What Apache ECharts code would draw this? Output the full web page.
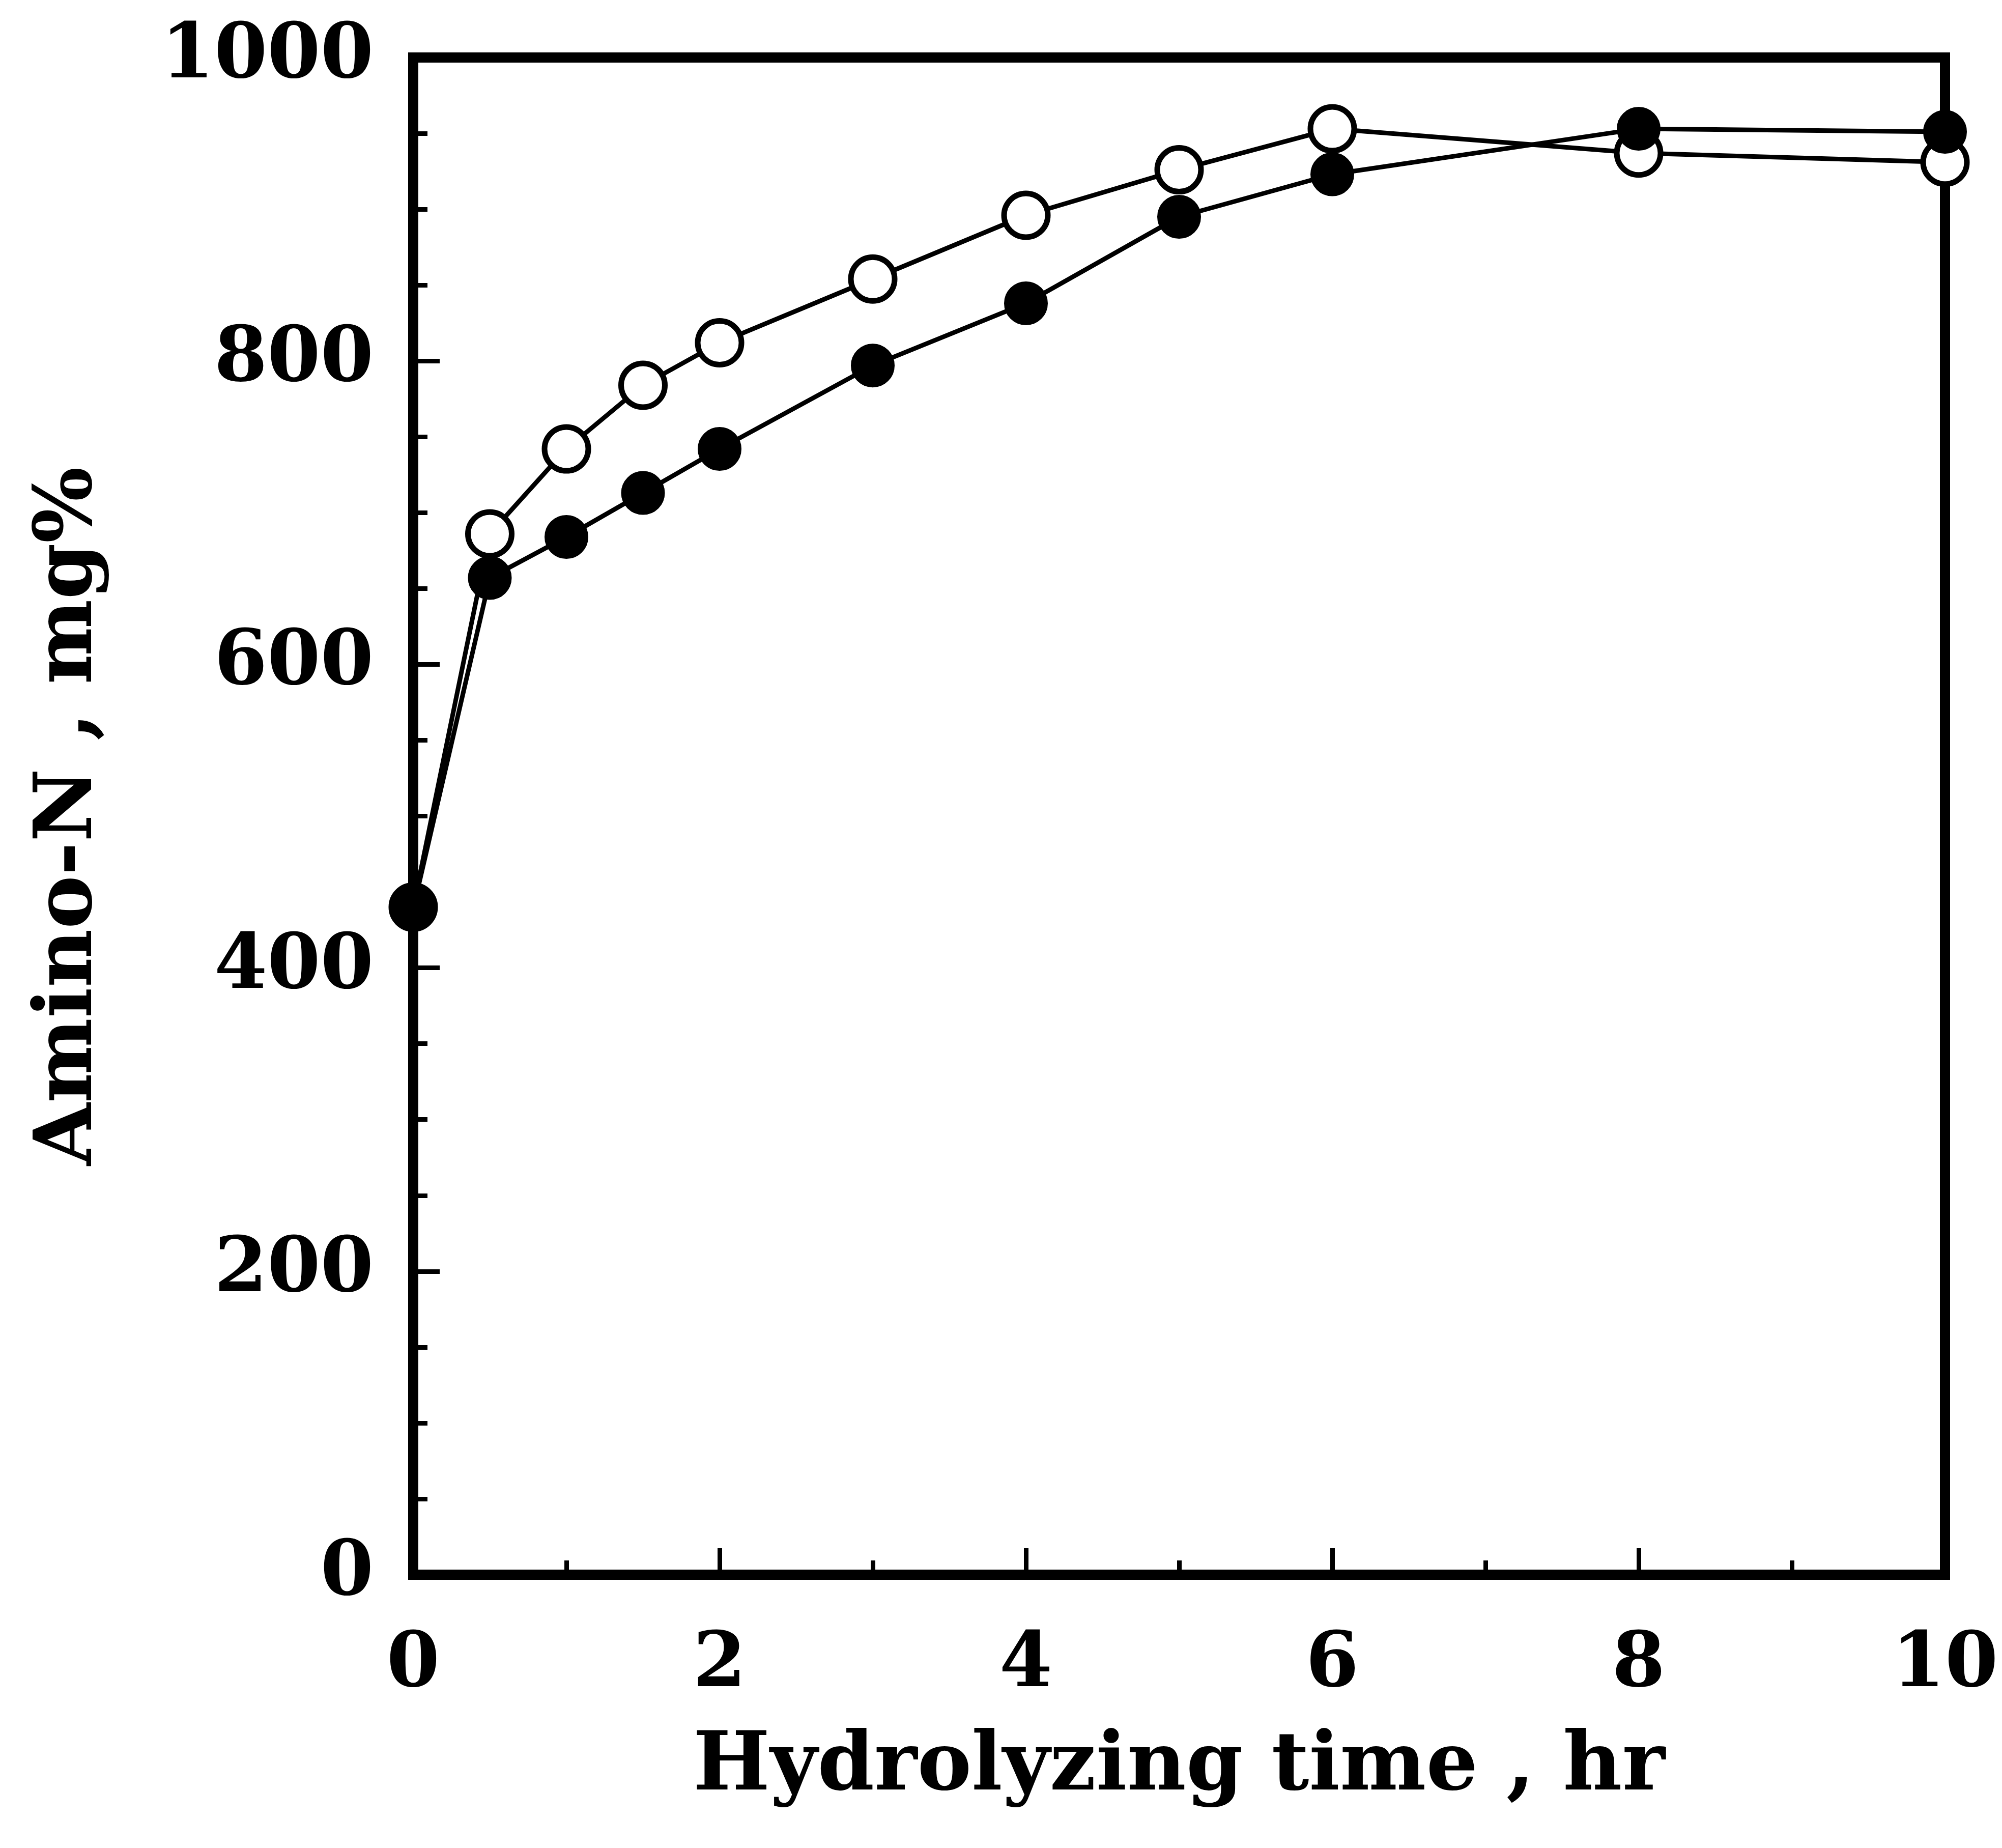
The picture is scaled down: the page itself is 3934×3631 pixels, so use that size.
<!DOCTYPE html>
<html>
<head>
<meta charset="utf-8">
<script src="https://cdn.jsdelivr.net/npm/echarts@6/dist/echarts.min.js"></script>
<style>
html,body{margin:0;padding:0;background:#fff;}
#chart{width:3934px;height:3631px;}
</style>
</head>
<body>
<div id="chart"></div>
<script>
// Data
const hours = [0, 0.5, 1, 1.5, 2, 3, 4, 5, 6, 8, 10];
const openValues = [440, 686, 742, 784, 812, 854, 896, 926, 953, 937, 931];
const filledValues = [439, 657, 684, 713, 742, 797, 838, 895, 923, 953, 951];
const xTicks = [0, 2, 4, 6, 8, 10];
const yTicks = [0, 200, 400, 600, 800, 1000];

const FONT = '"DejaVu Serif", "Liberation Serif", serif';
const pairs = (xs, ys) => xs.map((x, i) => [x, ys[i]]);

const chart = echarts.init(document.getElementById('chart'), null, {renderer: 'canvas'});
chart.setOption({
  backgroundColor: '#ffffff',
  animation: false,
  grid: {
    left: 812, right: 112, top: 113, bottom: 537,
    show: true, borderColor: '#000', borderWidth: 20, backgroundColor: 'transparent'
  },
  xAxis: {
    type: 'value', min: xTicks[0], max: xTicks[xTicks.length - 1], interval: 2,
    name: 'Hydrolyzing time , hr', nameLocation: 'middle', nameGap: 300,
    nameTextStyle: {fontFamily: FONT, fontWeight: 'bold', fontSize: 160, color: '#000'},
    axisLine: {show: true, onZero: false, lineStyle: {color: '#000', width: 20}},
    axisTick: {show: true, inside: true, length: 52, lineStyle: {color: '#000', width: 9}},
    minorTick: {show: true, splitNumber: 2, length: 28, lineStyle: {color: '#000', width: 9}},
    axisLabel: {margin: 105, fontFamily: FONT, fontWeight: 'bold', fontSize: 150, color: '#000',
      formatter: v => String(v)},
    splitLine: {show: false}
  },
  yAxis: {
    type: 'value', min: yTicks[0], max: yTicks[yTicks.length - 1], interval: 200,
    name: 'Amino-N , mg%', nameLocation: 'middle', nameGap: 595, nameRotate: 90,
    nameTextStyle: {fontFamily: FONT, fontWeight: 'bold', fontSize: 158, color: '#000'},
    axisLine: {show: true, onZero: false, lineStyle: {color: '#000', width: 20}},
    axisTick: {show: true, inside: true, length: 52, lineStyle: {color: '#000', width: 9}},
    minorTick: {show: true, splitNumber: 4, length: 28, lineStyle: {color: '#000', width: 9}},
    axisLabel: {margin: 78, fontFamily: FONT, fontWeight: 'bold', fontSize: 150, color: '#000',
      formatter: v => String(v)},
    splitLine: {show: false}
  },
  series: [
    {
      name: 'open', type: 'line', data: pairs(hours, openValues),
      symbol: 'circle', symbolSize: 86, z: 2,
      lineStyle: {color: '#000', width: 9},
      itemStyle: {color: '#fff', borderColor: '#000', borderWidth: 11}
    },
    {
      name: 'filled', type: 'line', data: pairs(hours, filledValues),
      symbol: 'circle', symbolSize: 82, z: 3,
      lineStyle: {color: '#000', width: 9},
      itemStyle: {color: '#000', borderColor: '#000', borderWidth: 4}
    }
  ]
});
</script>
</body>
</html>
